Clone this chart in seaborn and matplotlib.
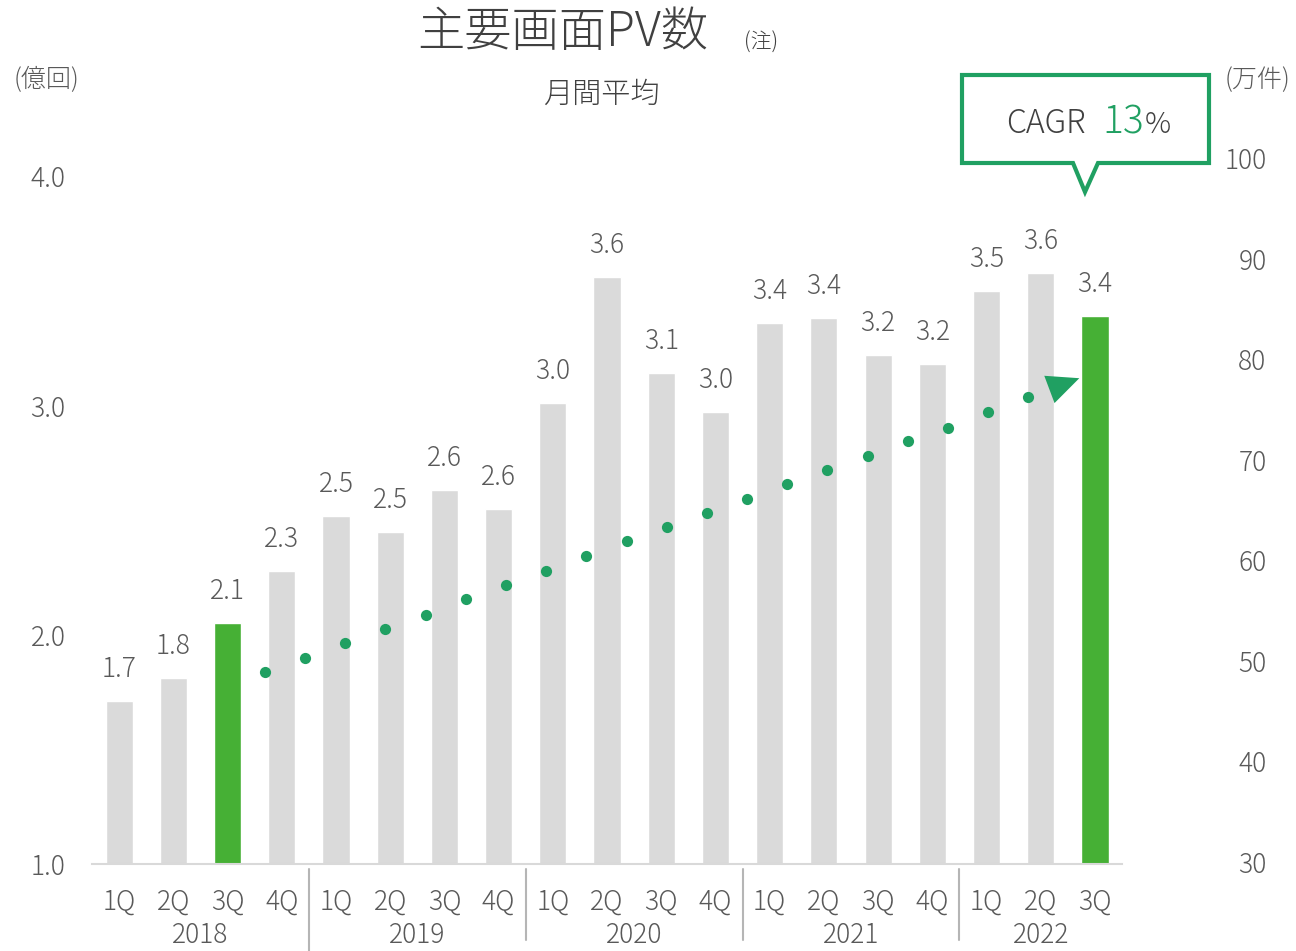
import numpy as np
import pandas as pd
import matplotlib
matplotlib.use("Agg")
import matplotlib.pyplot as plt
import matplotlib.transforms as mtransforms
from matplotlib.patches import Polygon
import seaborn as sns

# Chart data
years = ["2018", "2018", "2018", "2018",
         "2019", "2019", "2019", "2019",
         "2020", "2020", "2020", "2020",
         "2021", "2021", "2021", "2021",
         "2022", "2022", "2022"]
quarters = ["1Q", "2Q", "3Q", "4Q"] * 4 + ["1Q", "2Q", "3Q"]
pv_values = [1.71, 1.81, 2.05, 2.28, 2.52, 2.45, 2.63, 2.55, 3.01, 3.56,
             3.14, 2.97, 3.36, 3.38, 3.22, 3.18, 3.50, 3.58, 3.39]
pv_labels = ["1.7", "1.8", "2.1", "2.3", "2.5", "2.5", "2.6", "2.6", "3.0", "3.6",
             "3.1", "3.0", "3.4", "3.4", "3.2", "3.2", "3.5", "3.6", "3.4"]
highlight = [False, False, True] + [False] * 15 + [True]

# dotted trend (right axis, 万件)
trend_values = [48.9, 50.3, 51.8, 53.2, 54.6, 56.1, 57.5, 58.9, 60.4, 61.9,
                63.3, 64.7, 66.1, 67.6, 69.0, 70.4, 71.9, 73.2, 74.7, 76.2]

left_ticks = [1.0, 2.0, 3.0, 4.0]
right_ticks = [30, 40, 50, 60, 70, 80, 90, 100]

GRAY = "#DADADA"
GREEN_BAR = "#46B035"
GREEN = "#20A062"
TEXT = "#595959"
DARK = "#404040"

sns.set_style("white")
plt.rcParams["font.family"] = ["Noto Sans CJK JP", "DejaVu Sans"]
plt.rcParams["font.weight"] = "light"

df = pd.DataFrame({
    "period": [f"{y} {q}" for y, q in zip(years, quarters)],
    "pv": pv_values,
    "hl": highlight,
})

fig = plt.figure(figsize=(12.96, 9.51), dpi=100)
ax = fig.add_axes([0.071, 0.0915, 0.7948, 0.7508])

sns.barplot(data=df, x="period", y="pv", hue="hl", dodge=False,
            palette={False: GRAY, True: GREEN_BAR}, width=0.5,
            legend=False, ax=ax, saturation=1)

n = len(pv_values)
ax.set_xlim(-0.5, n - 0.5)
ax.set_ylim(1.0, 4.115)
ax.set_yticks(left_ticks)
ax.set_yticklabels([f"{v:.1f}" for v in left_ticks])
ax.set_xticks(range(n))
ax.set_xticklabels(quarters)
ax.set_xlabel("")
ax.set_ylabel("")
ax.tick_params(axis="x", length=0, pad=17, labelsize=19, labelcolor=TEXT)
ax.tick_params(axis="y", length=0, pad=19, labelsize=19, labelcolor=TEXT)
for s in ["left", "right", "top"]:
    ax.spines[s].set_visible(False)
ax.spines["bottom"].set_color("#D9D9D9")
ax.spines["bottom"].set_linewidth(1.5)

for i, (v, lab) in enumerate(zip(pv_values, pv_labels)):
    ax.annotate(lab, (i, v), xytext=(0, 13), textcoords="offset points",
                ha="center", va="bottom", fontsize=19, color=TEXT)

# year labels and separators
trans = mtransforms.blended_transform_factory(ax.transData, ax.transAxes)
year_names = sorted(set(years))
for yname in year_names:
    idx = [i for i, y in enumerate(years) if y == yname]
    ax.text(np.mean(idx), -0.100, yname, transform=trans, ha="center",
            va="center", fontsize=19, color=TEXT)
for k, yname in enumerate(year_names[1:]):
    xsep = years.index(yname) - 0.5
    ax.plot([xsep, xsep], [-0.007, -0.125 if k == 0 else -0.106], transform=trans,
            color="#B5B5B5", lw=1.5, clip_on=False)

# right axis with trend dots
ax2 = ax.twinx()
trend_x = np.linspace(2.69, 16.77, len(trend_values))
sns.scatterplot(x=trend_x, y=trend_values, color=GREEN, s=65, linewidth=0, ax=ax2)
ax2.set_ylim(29.8, 100.8)
ax2.set_xlim(-0.5, n - 0.5)
ax2.set_yticks(right_ticks)
ax2.set_yticklabels([str(v) for v in right_ticks])
ax2.tick_params(axis="y", length=0, pad=104, labelsize=19, labelcolor=TEXT)
for lab in ax2.get_yticklabels():
    lab.set_horizontalalignment("right")
for s in ["left", "right", "top", "bottom"]:
    ax2.spines[s].set_visible(False)

# arrow head continuing the trend
step_x = trend_x[-1] - trend_x[-2]
step_y = trend_values[-1] - trend_values[-2]
base = (trend_x[-1] + 0.5 * step_x, trend_values[-1] + 0.5 * step_y)
tip = (trend_x[-1] + 1.27 * step_x, trend_values[-1] + 1.27 * step_y)
ax2.annotate("", xy=tip, xytext=base,
             arrowprops=dict(arrowstyle="-|>,head_length=2.3,head_width=1.05",
                             color=GREEN, lw=0, shrinkA=0, shrinkB=0))

# titles and unit labels
fig.text(0.434, 0.966, "主要画面PV数", fontsize=34, color=DARK, ha="center", va="center")
fig.text(0.587, 0.955, "(注)", fontsize=15, color=DARK, ha="center", va="center")
fig.text(0.464, 0.901, "月間平均", fontsize=21, color=DARK, ha="center", va="center")
fig.text(0.036, 0.916, "(億回)", fontsize=18, color=TEXT, ha="center", va="center")
fig.text(0.970, 0.916, "(万件)", fontsize=18, color=TEXT, ha="center", va="center")

# CAGR callout
W, H = fig.bbox.width, fig.bbox.height
pts_px = [(962, 75), (1209, 75), (1209, 163), (1098, 163), (1085, 192),
          (1073, 163), (962, 163)]
callout = Polygon([(x / W, 1 - y / H) for x, y in pts_px], closed=True,
                  transform=fig.transFigure, facecolor="white", edgecolor=GREEN,
                  lw=3, joinstyle="miter")
fig.patches.append(callout)
yb = 1 - 133 / H
fig.text(1006 / W, yb, "CAGR", fontsize=23, color=DARK, ha="left", va="baseline")
fig.text(1102 / W, yb, "13", fontsize=28, color=GREEN, ha="left", va="baseline")
fig.text(1145 / W, yb, "%", fontsize=21, color=DARK, ha="left", va="baseline")

fig.savefig("out.png", dpi=100)
